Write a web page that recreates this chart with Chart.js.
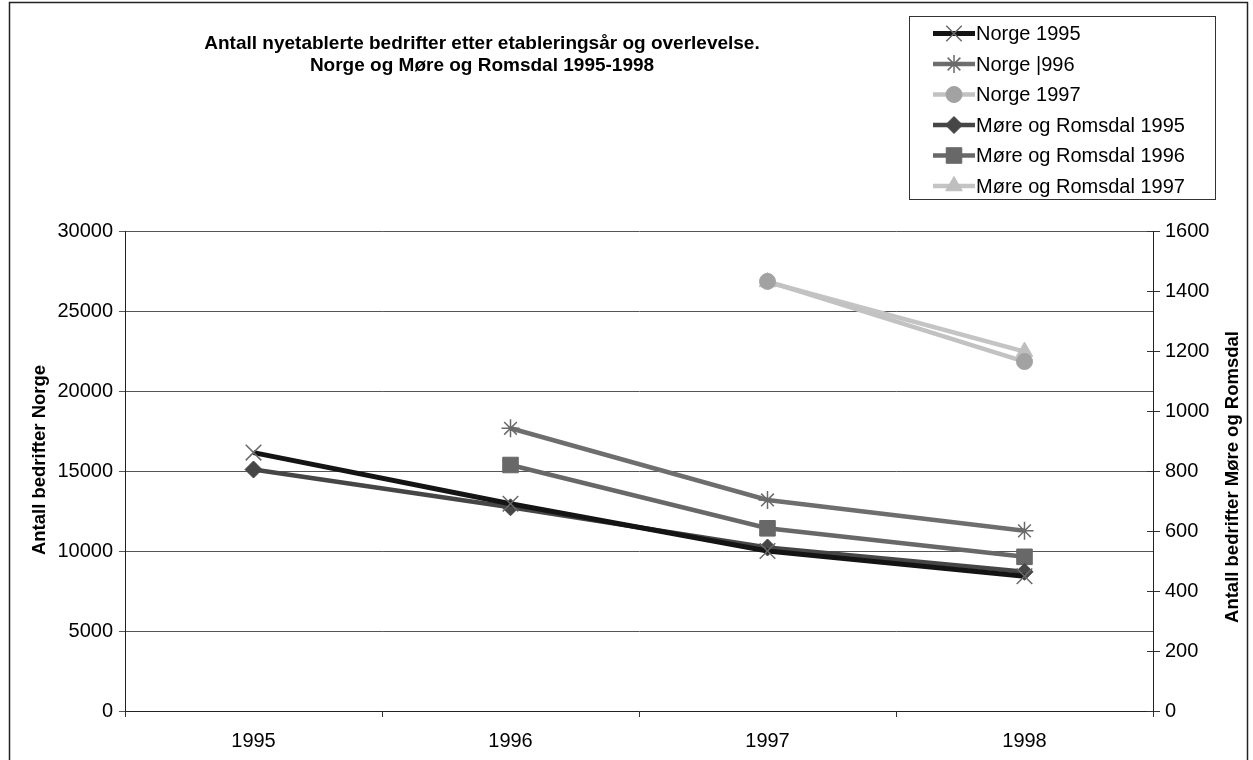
<!DOCTYPE html>
<html lang="no">
<head>
<meta charset="utf-8">
<title>Nyetablerte bedrifter</title>
<script src="https://cdn.jsdelivr.net/npm/chart.js@4/dist/chart.umd.min.js"></script>
<style>
  html, body { margin: 0; padding: 0; background: #fff; }
  #wrap { width: 1253px; height: 760px; position: relative; }
</style>
</head>
<body>
<div id="wrap"><canvas id="c" width="1253" height="760"></canvas></div>
<script>
// Etableringsår (kategoriakse)
const years = ['1995', '1996', '1997', '1998'];

// Antall overlevende bedrifter, hele landet (venstre akse)
const norge1995 = [16150, 12950, 10000, 8420];
const norge1996 = [null, 17670, 13190, 11260];
const norge1997 = [null, null, 26850, 21840];

// Antall overlevende bedrifter, Møre og Romsdal (høyre akse)
const more1995 = [805, 679, 545, 464];
const more1996 = [null, 820, 609, 514];
const more1997 = [null, null, 1430, 1198];

// Aksemerker
const norgeTicks = [0, 5000, 10000, 15000, 20000, 25000, 30000];
const moreTicks = [0, 200, 400, 600, 800, 1000, 1200, 1400, 1600];

const titleLines = [
  'Antall nyetablerte bedrifter etter etableringsår og overlevelse.',
  'Norge og Møre og Romsdal 1995-1998'
];
const leftAxisTitle = 'Antall bedrifter Norge';
const rightAxisTitle = 'Antall bedrifter Møre og Romsdal';

const FONT = '"Liberation Sans", Arial, Helvetica, sans-serif';

function series(label, data, axis, line, width, style, radius, fill, edge, edgeWidth) {
  return {
    label, data, yAxisID: axis,
    borderColor: line, borderWidth: width, backgroundColor: line,
    pointStyle: style, pointRadius: radius, pointHoverRadius: radius,
    pointBackgroundColor: fill, pointBorderColor: edge, pointBorderWidth: edgeWidth,
    tension: 0, spanGaps: false, fill: false
  };
}

const datasets = [
  series('Norge 1995', norge1995, 'y', '#141414', 5, 'crossRot', 11, '#6a6a6a', '#6a6a6a', 1.5),
  series('Norge |996', norge1996, 'y', '#6e6e6e', 4.5, 'star', 9, '#6a6a6a', '#6a6a6a', 1.5),
  series('Norge 1997', norge1997, 'y', '#c2c2c2', 4.5, 'circle', 8, '#a2a2a2', '#a2a2a2', 1),
  series('Møre og Romsdal 1995', more1995, 'y1', '#464646', 4.5, 'rectRot', 8.5, '#464646', '#464646', 1),
  series('Møre og Romsdal 1996', more1996, 'y1', '#686868', 4.5, 'rect', 11, '#686868', '#686868', 1),
  series('Møre og Romsdal 1997', more1997, 'y1', '#c4c4c4', 4.5, 'triangle', 9.5, '#bebebe', '#bebebe', 1)
];

function marker(ctx, ds, x, y) {
  const opts = { pointStyle: ds.pointStyle, radius: ds.pointRadius, rotation: 0, borderWidth: ds.pointBorderWidth };
  ctx.save();
  ctx.fillStyle = ds.pointBackgroundColor;
  ctx.strokeStyle = ds.pointBorderColor;
  ctx.lineWidth = ds.pointBorderWidth;
  Chart.helpers.drawPoint(ctx, opts, x, y);
  ctx.restore();
}

// Ramme, tittel, aksetitler, forklaring og indre merker på høyre akse
const decorations = {
  id: 'decorations',
  afterDraw(chart) {
    const ctx = chart.ctx;
    const area = chart.chartArea;
    ctx.save();

    // ytre ramme
    ctx.strokeStyle = '#222';
    ctx.lineWidth = 1.5;
    ctx.beginPath();
    ctx.moveTo(9.5, 762);
    ctx.lineTo(9.5, 2.5);
    ctx.lineTo(1247.5, 2.5);
    ctx.lineTo(1247.5, 762);
    ctx.stroke();

    // merker innover på høyre akse
    const r = chart.scales.y1;
    ctx.strokeStyle = '#333';
    ctx.lineWidth = 1;
    moreTicks.forEach(v => {
      const py = Math.round(r.getPixelForValue(v)) + 0.5;
      ctx.beginPath();
      ctx.moveTo(area.right - 6, py);
      ctx.lineTo(area.right, py);
      ctx.stroke();
    });

    // tittel
    ctx.fillStyle = '#000';
    ctx.font = 'bold 19px ' + FONT;
    ctx.textAlign = 'center';
    ctx.textBaseline = 'alphabetic';
    ctx.fillText(titleLines[0], 482, 48.5);
    ctx.fillText(titleLines[1], 482, 71);

    // aksetitler
    ctx.font = 'bold 18.5px ' + FONT;
    ctx.textBaseline = 'middle';
    ctx.save();
    ctx.translate(40, 460);
    ctx.rotate(-Math.PI / 2);
    ctx.fillText(leftAxisTitle, 0, 0);
    ctx.restore();
    ctx.save();
    ctx.translate(1233, 477);
    ctx.rotate(-Math.PI / 2);
    ctx.fillText(rightAxisTitle, 0, 0);
    ctx.restore();

    // forklaring
    ctx.fillStyle = '#fff';
    ctx.fillRect(909, 17, 307, 182);
    ctx.strokeStyle = '#333';
    ctx.lineWidth = 1;
    ctx.strokeRect(909.5, 16.5, 306, 183);
    ctx.font = '20px ' + FONT;
    ctx.textAlign = 'left';
    ctx.textBaseline = 'alphabetic';
    chart.data.datasets.forEach((ds, i) => {
      const base = 40 + i * 30.5;
      const ly = base - 6.5;
      ctx.strokeStyle = ds.borderColor;
      ctx.lineWidth = ds.borderWidth;
      ctx.beginPath();
      ctx.moveTo(933, ly);
      ctx.lineTo(975, ly);
      ctx.stroke();
      marker(ctx, ds, 954, ly);
      ctx.fillStyle = '#000';
      ctx.fillText(ds.label, 976, base);
    });

    ctx.restore();
  }
};

const tickFont = { family: FONT, size: 20 };

new Chart(document.getElementById('c'), {
  type: 'line',
  data: { labels: years, datasets },
  options: {
    responsive: false,
    devicePixelRatio: 1,
    animation: false,
    events: [],
    layout: { padding: { left: 10, right: 5, top: 231, bottom: 0 } },
    plugins: { legend: { display: false }, title: { display: false }, tooltip: { enabled: false } },
    scales: {
      x: {
        type: 'category',
        offset: true,
        grid: { display: true, drawOnChartArea: false, offset: true, tickLength: 6, color: '#333' },
        border: { display: true, color: '#222', width: 1 },
        ticks: { font: tickFont, color: '#000', padding: 12, maxRotation: 0 },
        afterFit(s) { s.height = 49; }
      },
      y: {
        position: 'left',
        min: 0, max: 30000,
        afterBuildTicks(s) { s.ticks = norgeTicks.map(v => ({ value: v })); },
        ticks: { font: tickFont, color: '#000', padding: 6, callback: v => String(v) },
        grid: { color: '#555', lineWidth: 1, tickLength: 6 },
        border: { display: true, color: '#222', width: 1 },
        afterFit(s) { s.width = 115; }
      },
      y1: {
        position: 'right',
        min: 0, max: 1600,
        afterBuildTicks(s) { s.ticks = moreTicks.map(v => ({ value: v })); },
        ticks: { font: tickFont, color: '#000', padding: 5, callback: v => String(v) },
        grid: { drawOnChartArea: false, tickLength: 7, color: '#333' },
        border: { display: true, color: '#222', width: 1 },
        afterFit(s) { s.width = 95; }
      }
    }
  },
  plugins: [decorations]
});
</script>
</body>
</html>
